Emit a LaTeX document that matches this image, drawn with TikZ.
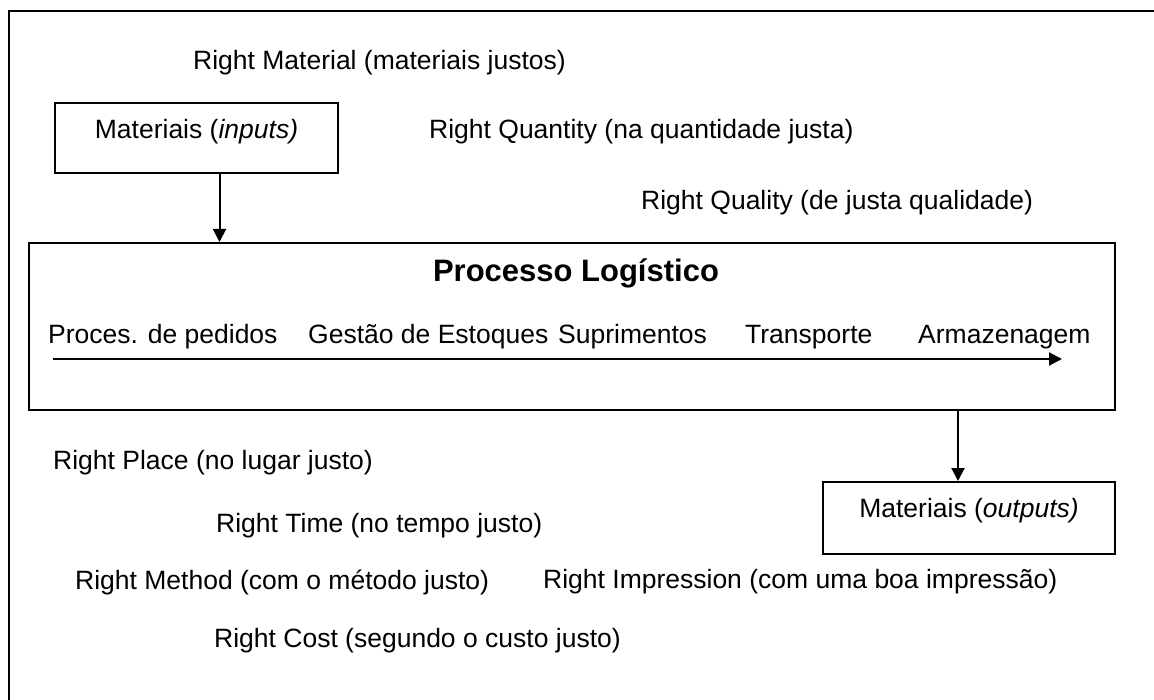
\documentclass[tikz,border=0pt]{standalone}
\usepackage{fontspec}
\setmainfont{Liberation Sans}
\usepackage{tikz}
\usetikzlibrary{positioning,arrows.meta}

\begin{document}
\begin{tikzpicture}[x=1pt,y=-1pt]
	\tikzset{every node/.style={inner sep=0pt, font=\fontsize{26.5}{31}\selectfont},
		box/.style={draw, line width=2pt},
		txt/.style={anchor=west},
		arr/.style={line width=2pt, -{Triangle[width=13pt,length=13pt]}}}
	\useasboundingbox (0,0) rectangle (1154,700);
	% outer frame (cut at right and bottom)
	\draw [line width=2pt] (1154,11) -- (9,11) -- (9,700);
	% inputs
	\node [box, minimum width=283pt, minimum height=70pt] (inp) at (196.5,138) {};
	\node (inptxt) at (196.5,132) {Materiais (\textit{inputs)}};
	% process box
	\node [box, minimum width=1086pt, minimum height=167pt] (proc) at (572,326.5) {};
	\node [font=\fontsize{31}{36}\selectfont\bfseries] (title) at (576,273) {Processo Logístico};
	\node [txt] (ped) at (48,337) {Proces. de pedidos};
	\node [txt] (est) at (308,337) {Gestão de Estoques};
	\node [txt] (sup) at (558,337) {Suprimentos};
	\node [txt] (tra) at (745,337) {Transporte};
	\node [txt] (arm) at (918,337) {Armazenagem};
	\coordinate (flowa) at (53,359);
	\coordinate (flowb) at (1062,359);
	\draw [arr] (flowa) -- (flowb);
	% outputs
	\node [box, minimum width=292pt, minimum height=72pt] (outp) at (969,518) {};
	\node (outtxt) at (969,511) {Materiais (\textit{outputs)}};
	% arrows
	\draw [arr] ([xshift=23pt]inp.south) -- ([xshift=23pt]inp.south |- proc.north);
	\draw [arr] ([xshift=-11pt]outp.north |- proc.south) -- ([xshift=-11pt]outp.north);
	% the rights
	\node [txt] (rmat) at (193,63) {Right Material (materiais justos)};
	\node [txt] (rqua) at (429,132) {Right Quantity (na quantidade justa)};
	\node [txt] (rqual) at (641,203) {Right Quality (de justa qualidade)};
	\node [txt] (rpla) at (53,463) {Right Place (no lugar justo)};
	\node [txt] (rtim) at (216,526) {Right Time (no tempo justo)};
	\node [txt] (rmet) at (75,582) {Right Method (com o método justo)};
	\node [txt] (rimp) at (543,582) {Right Impression (com uma boa impressão)};
	\node [txt] (rcos) at (214,641) {Right Cost (segundo o custo justo)};
\end{tikzpicture}
\end{document}
